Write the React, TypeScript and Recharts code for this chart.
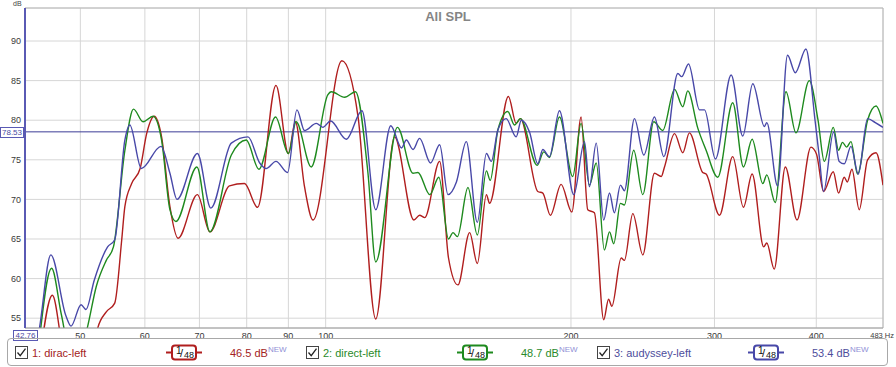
import React from "react";
import { LineChart, Line, XAxis, YAxis, CartesianGrid, ReferenceLine } from "recharts";

// axis setup
const FREQ_TICKS = [50, 60, 70, 80, 90, 100, 200, 300, 400, 483];
const DB_TICKS = [55, 60, 65, 70, 75, 80, 85, 90];
const X_MIN = 42.76;
const X_MAX = 483;
const Y_MIN = 53.76;
const Y_MAX = 94.17;
const MARKER_DB = 78.53;

// [Hz, dB]
const diracLeft: [number, number][] = [
  [44.6, 50], [46.2, 57.9], [47.9, 50], [51.8, 48], [52.5, 53.7], [53.8, 55.8], [55.1, 56.9],
  [56.2, 64.9], [56.7, 69.1], [57.8, 72.0], [59.2, 73.9], [60.3, 78.3], [61.6, 80.5], [62.9, 77.9],
  [64.4, 69.1], [65.9, 65.1], [69.6, 70.6], [72.1, 65.9], [76.2, 71.7], [79.5, 72.0], [82.5, 69.0],
  [86.9, 84.4], [90.0, 75.8], [91.8, 79.8], [94.2, 71.6], [96.5, 67.4], [104.7, 87.5], [109.6, 80.4],
  [115.2, 54.9], [121.5, 77.9], [128.3, 67.4], [130.4, 68.0], [132.3, 67.7], [138.0, 74.8],
  [141.5, 62.6], [145.3, 59.2], [150.2, 65.8], [153.5, 61.9], [157.5, 70.6], [158.9, 69.5],
  [167.6, 83.0], [171.3, 79.6], [173.4, 80.2], [182.1, 71.0], [184.7, 70.8], [188.7, 68.0],
  [194.5, 71.9], [200.5, 68.4], [205.8, 80.4], [209.7, 68.7], [213.7, 68.3], [219.4, 54.8],
  [222.4, 57.4], [224.5, 56.5], [230.5, 62.6], [232.6, 62.3], [238.2, 68.2], [245.0, 63.0],
  [253.2, 73.3], [258.1, 72.9], [260.5, 74.1], [268.0, 78.3], [274.3, 75.9], [279.5, 78.4],
  [290.2, 73.4], [293.0, 73.2], [304.3, 68.0], [315.9, 75.4], [325.6, 69.0], [333.7, 73.2],
  [344.8, 64.0], [347.8, 64.5], [355.2, 61.2], [366.5, 74.1], [378.8, 67.4], [394.0, 76.6],
  [400.3, 75.7], [408.3, 71.0], [419.7, 73.5], [426.0, 70.8], [432.9, 72.8], [436.6, 72.2],
  [442.4, 73.8], [451.6, 68.7], [462.4, 75.0], [473.6, 75.9], [483, 71.8],
];

const directLeft: [number, number][] = [
  [44.3, 50], [46.1, 61.3], [47.4, 55.4], [48.4, 51.5], [50.3, 51.5], [51.0, 53.8], [52.3, 59.0],
  [53.8, 62.3], [54.9, 64.0], [56.7, 76.2], [58.1, 81.4], [59.7, 79.8], [61.4, 80.5], [62.9, 77.5],
  [64.4, 68.7], [65.5, 67.2], [69.5, 74.1], [72.1, 65.9], [76.6, 75.6], [79.9, 77.5], [82.8, 73.8],
  [86.8, 80.4], [90.0, 75.8], [92.0, 79.8], [96.0, 74.1], [100.6, 83.2], [101.6, 83.6], [105.5, 82.9],
  [108.8, 83.6], [112.7, 73.3], [115.2, 62.1], [122.5, 79.1], [128.0, 73.3], [129.8, 73.4],
  [134.2, 70.6], [137.7, 72.8], [141.5, 65.0], [143.3, 65.8], [145.1, 65.3], [149.5, 71.5],
  [153.5, 65.5], [157.5, 73.6], [159.2, 72.4], [162.7, 78.8], [167.3, 81.1], [170.5, 79.4],
  [173.4, 80.2], [181.8, 74.3], [185.2, 76.0], [188.2, 75.3], [193.6, 80.4], [201.0, 72.9],
  [205.8, 79.6], [210.7, 71.8], [214.8, 74.6], [219.8, 63.6], [223.0, 65.9], [225.7, 64.4],
  [230.0, 69.5], [232.6, 69.3], [238.8, 76.2], [245.0, 70.6], [252.7, 79.8], [259.2, 78.7],
  [268.0, 83.9], [274.3, 81.7], [278.2, 83.7], [286.2, 79.0], [293.0, 76.2], [302.8, 72.8],
  [315.9, 82.2], [325.6, 74.1], [333.7, 77.6], [343.9, 72.0], [347.8, 73.1], [356.2, 69.6],
  [367.2, 83.6], [377.7, 78.4], [392.2, 85.0], [402.0, 80.0], [409.2, 74.8], [419.7, 79.1],
  [426.0, 76.2], [430.8, 77.2], [435.8, 76.6], [441.2, 77.3], [449.5, 73.2], [462.4, 80.0],
  [473.6, 81.8], [483, 79.6],
];

const audysseyLeft: [number, number][] = [
  [43.3, 48], [44.5, 53.5], [46.0, 63.0], [48.0, 55.3], [48.7, 54.0], [50.1, 56.7], [50.8, 56.1],
  [52.0, 59.8], [54.0, 64.0], [55.1, 64.9], [56.7, 77.5], [57.5, 79.4], [59.4, 73.9], [62.8, 76.7],
  [64.4, 73.3], [65.7, 70.0], [69.6, 75.8], [72.3, 68.9], [76.6, 77.1], [80.3, 77.9], [83.0, 74.6],
  [84.5, 73.9], [86.9, 74.8], [89.8, 73.4], [92.2, 81.3], [94.2, 78.7], [97.4, 79.6], [99.2, 79.1],
  [101.4, 79.9], [106.0, 77.6], [110.8, 81.2], [115.2, 68.7], [120.2, 79.3], [123.9, 76.5],
  [125.6, 77.5], [128.0, 76.3], [130.4, 77.7], [134.5, 74.6], [138.0, 76.9], [141.3, 70.6],
  [144.7, 72.2], [148.8, 77.3], [153.5, 67.1], [157.5, 75.8], [159.7, 74.8], [162.7, 78.8],
  [166.5, 80.2], [171.3, 77.9], [173.8, 80.0], [177.9, 78.5], [182.1, 74.5], [184.7, 76.3],
  [188.2, 75.4], [193.6, 81.2], [201.6, 70.6], [207.8, 77.3], [210.7, 71.6], [214.8, 77.1],
  [219.4, 67.4], [223.0, 70.8], [226.1, 68.3], [230.0, 71.8], [232.6, 71.1], [239.3, 80.2],
  [245.7, 75.6], [253.2, 80.4], [260.0, 75.4], [270.5, 85.9], [273.5, 85.5], [278.8, 87.1],
  [287.6, 81.3], [291.7, 81.3], [300.8, 75.1], [314.5, 85.7], [325.0, 78.0], [334.3, 84.6],
  [345.5, 79.2], [347.8, 79.7], [358.6, 71.7], [368.8, 88.2], [377.0, 86.0], [388.5, 89.0],
  [398.6, 80.0], [403.4, 75.4], [408.3, 71.0], [420.0, 78.5], [426.8, 74.8], [432.9, 74.5],
  [441.2, 76.7], [450.4, 73.2], [462.4, 80.2], [472.6, 79.7], [483, 79.1],
];

const SERIES = [
  { name: "1: dirac-left", level: "46.5 dB", data: diracLeft, color: "#b01e1e", text: "#a32222" },
  { name: "2: direct-left", level: "48.7 dB", data: directLeft, color: "#1e8a1e", text: "#2a8a2a" },
  { name: "3: audyssey-left", level: "53.4 dB", data: audysseyLeft, color: "#4848a8", text: "#4d4d9c" },
];

const toPoints = (arr: [number, number][]) => arr.map(([hz, db]) => ({ hz, db }));

const FONT = "'Liberation Sans', Arial, sans-serif";
const tickStyle = { fontSize: 9, fill: "#3a3a3a", fontFamily: FONT };

function FreqTick(props: any) {
  const { x, y, payload } = props;
  if (payload.value === X_MAX) {
    return (
      <text x={894} y={y + 3} dy="0.71em" textAnchor="end" fontSize={7.5} fill="#3a3a3a" fontFamily={FONT}>
        483 Hz
      </text>
    );
  }
  return (
    <text x={x} y={y + 3} dy="0.71em" textAnchor="middle" fontSize={9} fill="#3a3a3a" fontFamily={FONT}>
      {payload.value}
    </text>
  );
}

function CheckBox({ left }: { left: number }) {
  return (
    <svg width={13} height={13} style={{ position: "absolute", left, top: 346 }}>
      <rect x={0.5} y={0.5} width={12} height={12} fill="#fff" stroke="#444" />
      <path d="M2.5 6.5 L5.2 9.6 L10.5 2.6" fill="none" stroke="#222" strokeWidth={1.3} />
    </svg>
  );
}

function SmoothIcon({ left, color }: { left: number; color: string }) {
  return (
    <svg width={36} height={17} style={{ position: "absolute", left, top: 344 }}>
      <line x1={0} y1={8.5} x2={36} y2={8.5} stroke={color} strokeWidth={2} />
      <rect x={6} y={1.5} width={24} height={14} rx={3} fill="#fff" stroke={color} strokeWidth={2} />
      <text x={10} y={10} fontSize={10} fill="#111" fontFamily={FONT}>1</text>
      <text x={14} y={13} fontSize={11} fill="#111" fontFamily={FONT}>/</text>
      <text x={18} y={14} fontSize={9} fill="#111" fontFamily={FONT}>48</text>
    </svg>
  );
}

const LEGEND_POS = [
  { box: 15, label: 32, icon: 166, level: 230 },
  { box: 306, label: 323, icon: 457, level: 521 },
  { box: 597, label: 614, icon: 748, level: 812 },
];

export default function App() {
  return (
    <div style={{ position: "absolute", left: 0, top: 0, width: 896, height: 367, background: "#fff", fontFamily: FONT, overflow: "hidden" }}>
      <LineChart width={896} height={340} margin={{ top: 8, right: 13, bottom: 0, left: 0 }}>
        <CartesianGrid stroke="#d6d6d6" />
        <XAxis
          dataKey="hz"
          type="number"
          scale="log"
          domain={[X_MIN, X_MAX]}
          ticks={FREQ_TICKS}
          allowDataOverflow
          height={12}
          tickSize={0}
          tick={<FreqTick />}
          stroke="#9a9a9a"
          interval={0}
        />
        <YAxis
          type="number"
          domain={[Y_MIN, Y_MAX]}
          ticks={DB_TICKS}
          allowDataOverflow
          width={25}
          tickSize={0}
          tickMargin={4}
          tick={tickStyle}
          axisLine={{ stroke: "#5a5ab4", strokeWidth: 2 }}
          interval={0}
        />
        <ReferenceLine y={Y_MAX} stroke="#b8b8b8" />
        <ReferenceLine x={X_MAX} stroke="#b8b8b8" />
        <ReferenceLine y={MARKER_DB} stroke="#3c3c96" strokeWidth={1} />
        {SERIES.map((s) => (
          <Line
            key={s.name}
            data={toPoints(s.data)}
            dataKey="db"
            type="monotone"
            stroke={s.color}
            strokeWidth={1.4}
            dot={false}
            isAnimationActive={false}
          />
        ))}
      </LineChart>

      <div style={{ position: "absolute", left: 13, top: 0, fontSize: 7, lineHeight: "7px", color: "#444" }}>dB</div>
      <div style={{ position: "absolute", left: 0, top: 9, width: 896, textAlign: "center", fontSize: 13, fontWeight: "bold", color: "#858585", lineHeight: "16px" }}>All SPL</div>
      <div style={{ position: "absolute", left: 0, top: 127, width: 22, height: 9, border: "1px solid #5a5ab4", background: "#fff", fontSize: 8, lineHeight: "9px", color: "#4a4aa4", textAlign: "center" }}>78.53</div>
      <div style={{ position: "absolute", left: 13, top: 330, width: 23, height: 9, border: "1px solid #5a5ab4", background: "#fff", fontSize: 8, lineHeight: "9px", color: "#4a4aa4", textAlign: "center" }}>42.76</div>

      <div style={{ position: "absolute", left: 7, top: 338, width: 879, height: 26, border: "1px solid #a8a8a8", borderRadius: 4 }} />
      {SERIES.map((s, i) => {
        const p = LEGEND_POS[i];
        return (
          <React.Fragment key={s.name}>
            <CheckBox left={p.box} />
            <div style={{ position: "absolute", left: p.label, top: 345, fontSize: 11, lineHeight: "16px", color: s.text }}>{s.name}</div>
            <SmoothIcon left={p.icon} color={s.color} />
            <div style={{ position: "absolute", left: p.level, top: 345, fontSize: 11, lineHeight: "16px", color: s.text, whiteSpace: "nowrap" }}>
              {s.level}
              <sup style={{ fontSize: 8, color: "#8f8fd6", verticalAlign: "top", lineHeight: "10px" }}>NEW</sup>
            </div>
          </React.Fragment>
        );
      })}
    </div>
  );
}
